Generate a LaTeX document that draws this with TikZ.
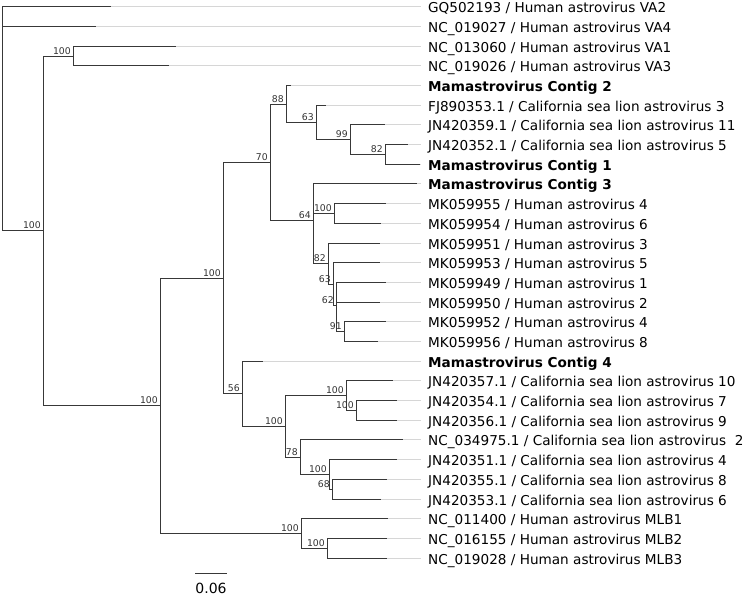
\documentclass[tikz,border=0pt]{standalone}
\usepackage{fontspec}
\setmainfont{DejaVu Sans}
\definecolor{branch}{HTML}{383838}
\definecolor{guide}{HTML}{D6D6D6}
\definecolor{bstext}{HTML}{333333}
\begin{document}
\begin{tikzpicture}[x=1pt,y=-1pt,
  br/.style={draw=branch,line width=1.7pt},
  guideline/.style={draw=guide,line width=1pt},
  leaf/.style={anchor=west,inner xsep=7pt,inner ysep=0pt,text height=11.8pt,text depth=0pt,font=\fontsize{13.6}{16}\selectfont,text=black},
  bold/.style={leaf,font=\fontsize{13.6}{16}\selectfont\bfseries},
  bs/.style={anchor=south east,inner sep=0pt,text depth=0pt,font=\fontsize{9.3}{10}\selectfont,text=bstext}]
\useasboundingbox (0,0) rectangle (749,596);
% leaf tips
\coordinate (t1) at (110.7,6.5);
\coordinate (t2) at (96,26.5);
\coordinate (t3) at (175.7,46.5);
\coordinate (t4) at (168.7,65.5);
\coordinate (t5) at (290.7,85.5);
\coordinate (t6) at (326,105.5);
\coordinate (t7) at (385,124.5);
\coordinate (t8) at (407.7,144.5);
\coordinate (t9) at (419.5,164.5);
\coordinate (t10) at (417,183.5);
\coordinate (t11) at (386,203.5);
\coordinate (t12) at (381,223.5);
\coordinate (t13) at (379.8,243.5);
\coordinate (t14) at (379.8,262.5);
\coordinate (t15) at (386,282.5);
\coordinate (t16) at (379.5,302.5);
\coordinate (t17) at (386,321.5);
\coordinate (t18) at (378.3,341.5);
\coordinate (t19) at (263.3,361.5);
\coordinate (t20) at (392.7,380.5);
\coordinate (t21) at (396.7,400.5);
\coordinate (t22) at (396.7,420.5);
\coordinate (t23) at (402.7,439.5);
\coordinate (t24) at (397.3,459.5);
\coordinate (t25) at (387.3,479.5);
\coordinate (t26) at (381,499.5);
\coordinate (t27) at (388.3,518.5);
\coordinate (t28) at (387.3,538.5);
\coordinate (t29) at (387.3,558.5);
% internal nodes
\coordinate (root) at (2.5,118.5);
\coordinate (nA) at (43.5,230.5);
\coordinate (nVA) at (73.5,56.5);
\coordinate (nB) at (160.5,405.5);
\coordinate (nC) at (223.5,278.5);
\coordinate (nM) at (270.5,162.5);
\coordinate (nN) at (286.5,104.5);
\coordinate (nO) at (316.5,122.5);
\coordinate (nP) at (350.5,139.5);
\coordinate (nQ) at (385.5,154.5);
\coordinate (nR) at (313.5,220.5);
\coordinate (nS) at (334.5,213.5);
\coordinate (nT) at (328.5,263.5);
\coordinate (nU) at (333.5,284.5);
\coordinate (nV) at (336.5,305.5);
\coordinate (nW) at (344.5,331.5);
\coordinate (nD) at (242.5,393.5);
\coordinate (nE) at (285.5,426.5);
\coordinate (nF) at (346.5,395.5);
\coordinate (nG) at (356.5,410.5);
\coordinate (nH) at (300.5,457.5);
\coordinate (nI) at (329.5,474.5);
\coordinate (nJ) at (332.5,489.5);
\coordinate (nK) at (301.5,533.5);
\coordinate (nL) at (327.5,548.5);
% leaf labels
\node[leaf] (l1) at (421,6.5) {GQ502193 / Human astrovirus VA2};
\node[leaf] (l2) at (421,26.5) {NC\_019027 / Human astrovirus VA4};
\node[leaf] (l3) at (421,46.5) {NC\_013060 / Human astrovirus VA1};
\node[leaf] (l4) at (421,65.5) {NC\_019026 / Human astrovirus VA3};
\node[bold] (l5) at (421,85.5) {Mamastrovirus Contig 2};
\node[leaf] (l6) at (421,105.5) {FJ890353.1 / California sea lion astrovirus 3};
\node[leaf] (l7) at (421,124.5) {JN420359.1 / California sea lion astrovirus 11};
\node[leaf] (l8) at (421,144.5) {JN420352.1 / California sea lion astrovirus 5};
\node[bold] (l9) at (421,164.5) {Mamastrovirus Contig 1};
\node[bold] (l10) at (421,183.5) {Mamastrovirus Contig 3};
\node[leaf] (l11) at (421,203.5) {MK059955 / Human astrovirus 4};
\node[leaf] (l12) at (421,223.5) {MK059954 / Human astrovirus 6};
\node[leaf] (l13) at (421,243.5) {MK059951 / Human astrovirus 3};
\node[leaf] (l14) at (421,262.5) {MK059953 / Human astrovirus 5};
\node[leaf] (l15) at (421,282.5) {MK059949 / Human astrovirus 1};
\node[leaf] (l16) at (421,302.5) {MK059950 / Human astrovirus 2};
\node[leaf] (l17) at (421,321.5) {MK059952 / Human astrovirus 4};
\node[leaf] (l18) at (421,341.5) {MK059956 / Human astrovirus 8};
\node[bold] (l19) at (421,361.5) {Mamastrovirus Contig 4};
\node[leaf] (l20) at (421,380.5) {JN420357.1 / California sea lion astrovirus 10};
\node[leaf] (l21) at (421,400.5) {JN420354.1 / California sea lion astrovirus 7};
\node[leaf] (l22) at (421,420.5) {JN420356.1 / California sea lion astrovirus 9};
\node[leaf] (l23) at (421,439.5) {NC\_034975.1 / California sea lion astrovirus~ 2};
\node[leaf] (l24) at (421,459.5) {JN420351.1 / California sea lion astrovirus 4};
\node[leaf] (l25) at (421,479.5) {JN420355.1 / California sea lion astrovirus 8};
\node[leaf] (l26) at (421,499.5) {JN420353.1 / California sea lion astrovirus 6};
\node[leaf] (l27) at (421,518.5) {NC\_011400 / Human astrovirus MLB1};
\node[leaf] (l28) at (421,538.5) {NC\_016155 / Human astrovirus MLB2};
\node[leaf] (l29) at (421,558.5) {NC\_019028 / Human astrovirus MLB3};
% guide lines
\foreach \i in {1,...,29} \draw[guideline] (t\i) -- (l\i.west);
% branches
\foreach \p/\c in {root/t1,root/t2,root/nA,nA/nVA,nA/nB,nVA/t3,nVA/t4,
  nB/nC,nB/nK,nC/nM,nC/nD,nM/nN,nM/nR,nN/t5,nN/nO,nO/t6,nO/nP,nP/t7,nP/nQ,
  nQ/t8,nQ/t9,nR/t10,nR/nS,nR/nT,nS/t11,nS/t12,nT/t13,nT/nU,nU/t14,nU/nV,
  nV/t15,nV/t16,nV/nW,nW/t17,nW/t18,nD/t19,nD/nE,nE/nF,nE/nH,nF/t20,nF/nG,
  nG/t21,nG/t22,nH/t23,nH/nI,nI/t24,nI/nJ,nJ/t25,nJ/t26,nK/t27,nK/nL,
  nL/t28,nL/t29}
  \draw[br] (\p) |- (\c);
% bootstrap labels
\node[bs] (bA) at (41,229) {100};
\node[bs] (bVA) at (71,55) {100};
\node[bs] (bB) at (158,404) {100};
\node[bs] (bC) at (221,277) {100};
\node[bs] (bM) at (268,161) {70};
\node[bs] (bN) at (284,103) {88};
\node[bs] (bO) at (314,121) {63};
\node[bs] (bP) at (348,138) {99};
\node[bs] (bQ) at (383,153) {82};
\node[bs] (bR) at (311,219) {64};
\node[bs] (bS) at (332,212) {100};
\node[bs] (bT) at (326,262) {82};
\node[bs] (bU) at (331,283) {63};
\node[bs] (bV) at (334,304) {62};
\node[bs] (bW) at (342,330) {91};
\node[bs] (bD) at (240,392) {56};
\node[bs] (bE) at (283,425) {100};
\node[bs] (bF) at (344,394) {100};
\node[bs] (bG) at (354,409) {100};
\node[bs] (bH) at (298,456) {78};
\node[bs] (bI) at (327,473) {100};
\node[bs] (bJ) at (330,488) {68};
\node[bs] (bK) at (299,532) {100};
\node[bs] (bL) at (325,547) {100};
% scale bar
\coordinate (s1) at (195,573.5);
\coordinate (s2) at (227.3,573.5);
\draw[br] (s1) -- (s2);
\node[font=\fontsize{14}{16}\selectfont,inner sep=0pt] (sl) at (211,588) {0.06};
\end{tikzpicture}
\end{document}
